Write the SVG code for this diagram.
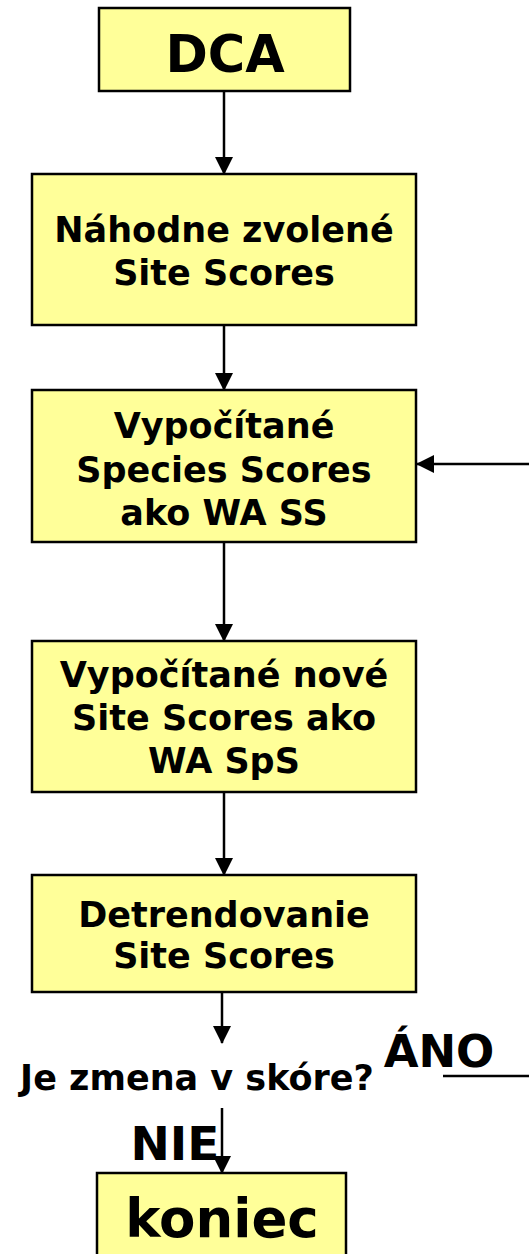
<svg xmlns="http://www.w3.org/2000/svg" width="529" height="1254" viewBox="0 0 529 1254">
<style>
.box{fill:#FFFF99;stroke:#000;stroke-width:2.5}
.t{font-family:"DejaVu Sans",Verdana,sans-serif;font-weight:bold;fill:#000;text-anchor:middle}
.c{stroke:#000;stroke-width:2.5;fill:none}
</style>
<defs>
<marker id="ah" markerWidth="18" markerHeight="18" viewBox="0 0 18 18" refX="17" refY="9" orient="auto" markerUnits="userSpaceOnUse">
<path d="M0,0 L18,9 L0,18 z" fill="#000"/>
</marker>
</defs>
<rect width="529" height="1254" fill="#fff"/>
<g id="connectors">
<line class="c" x1="224" y1="92" x2="224" y2="174" marker-end="url(#ah)"/>
<line class="c" x1="224" y1="325" x2="224" y2="390" marker-end="url(#ah)"/>
<line class="c" x1="224" y1="542" x2="224" y2="641" marker-end="url(#ah)"/>
<line class="c" x1="224" y1="792" x2="224" y2="875" marker-end="url(#ah)"/>
<line class="c" x1="222" y1="992" x2="222" y2="1043" marker-end="url(#ah)"/>
<line class="c" x1="222" y1="1108" x2="222" y2="1173" marker-end="url(#ah)"/>
<line class="c" x1="443" y1="1076" x2="529" y2="1076"/>
<line class="c" x1="529" y1="464" x2="417" y2="464" marker-end="url(#ah)"/>
</g>
<g id="dca">
<rect class="box" x="99" y="8" width="251" height="83"/>
<text class="t" x="225" y="72" font-size="51">DCA</text>
</g>
<g id="nahodne">
<rect class="box" x="32" y="174" width="384" height="151"/>
<text class="t" x="224" y="242" font-size="35">Náhodne zvolené</text>
<text class="t" x="224" y="285" font-size="35">Site Scores</text>
</g>
<g id="species">
<rect class="box" x="32" y="390" width="384" height="152"/>
<text class="t" x="224" y="438" font-size="35">Vypočítané</text>
<text class="t" x="224" y="482" font-size="35">Species Scores</text>
<text class="t" x="224" y="525" font-size="35">ako WA SS</text>
</g>
<g id="site">
<rect class="box" x="32" y="641" width="384" height="151"/>
<text class="t" x="224" y="687" font-size="35">Vypočítané nové</text>
<text class="t" x="224" y="730" font-size="35">Site Scores ako</text>
<text class="t" x="224" y="773" font-size="35">WA SpS</text>
</g>
<g id="detrend">
<rect class="box" x="32" y="875" width="384" height="117"/>
<text class="t" x="224" y="927" font-size="35">Detrendovanie</text>
<text class="t" x="224" y="968" font-size="35">Site Scores</text>
</g>
<g id="question">
<text class="t" x="197" y="1090" font-size="35">Je zmena v skóre?</text>
<text class="t" x="439" y="1067" font-size="45">ÁNO</text>
<text class="t" x="175" y="1160" font-size="47">NIE</text>
</g>
<g id="koniec">
<rect class="box" x="97" y="1173" width="249" height="90"/>
<text class="t" x="222" y="1237" font-size="53">koniec</text>
</g>
</svg>
